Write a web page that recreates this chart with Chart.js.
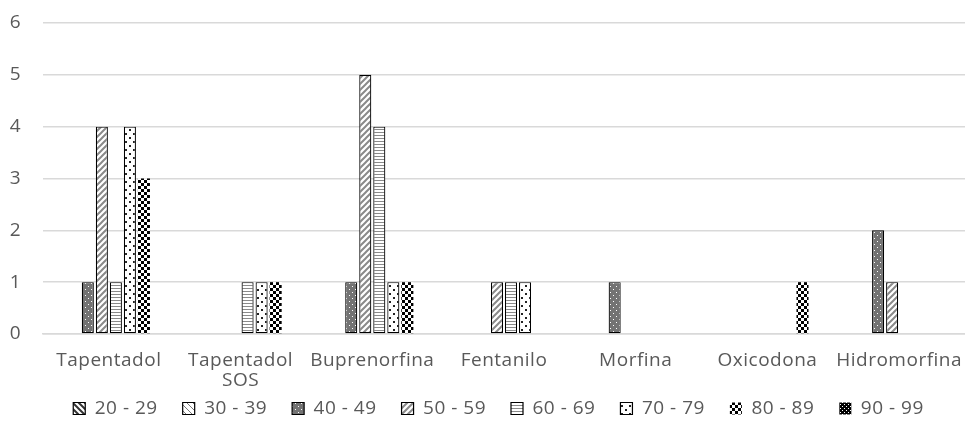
<!DOCTYPE html>
<html>
<head>
<meta charset="utf-8">
<script src="https://cdn.jsdelivr.net/npm/chart.js@4.4.1/dist/chart.umd.min.js"></script>
<style>
  html, body { margin: 0; padding: 0; background: #ffffff; }
  canvas { display: block; }
</style>
</head>
<body>
<canvas id="c" width="965" height="428"></canvas>
<script>
// Categories (x axis) and one array per age band
const categories = ['Tapentadol', ['Tapentadol', 'SOS'], 'Buprenorfina', 'Fentanilo', 'Morfina', 'Oxicodona', 'Hidromorfina'];
const ageBands = ['20 - 29', '30 - 39', '40 - 49', '50 - 59', '60 - 69', '70 - 79', '80 - 89', '90 - 99'];
const band20_29 = [0, 0, 0, 0, 0, 0, 0];
const band30_39 = [0, 0, 0, 0, 0, 0, 0];
const band40_49 = [1, 0, 1, 0, 1, 0, 2];
const band50_59 = [4, 0, 5, 1, 0, 0, 1];
const band60_69 = [1, 1, 4, 1, 0, 0, 0];
const band70_79 = [4, 1, 1, 1, 0, 0, 0];
const band80_89 = [3, 1, 1, 0, 0, 1, 0];
const band90_99 = [0, 0, 0, 0, 0, 0, 0];
const yTicks = [0, 1, 2, 3, 4, 5, 6];

const TEXT = '#595959';
const FONT = "'Open Sans', 'Noto Sans', sans-serif";
const SIZE = 19;

// Small tiled fills for the monochrome bar patterns
function makePattern(w, h, draw) {
  const c = document.createElement('canvas');
  c.width = w; c.height = h;
  const g = c.getContext('2d');
  draw(g, w, h);
  return g.createPattern(c, 'repeat');
}

const fills = [
  // 20 - 29: dark downward diagonals
  makePattern(6, 6, (g) => {
    g.fillStyle = '#fff'; g.fillRect(0, 0, 6, 6);
    g.strokeStyle = '#333'; g.lineWidth = 2;
    g.beginPath(); g.moveTo(-1, -1); g.lineTo(7, 7); g.moveTo(-1, 5); g.lineTo(1, 7); g.moveTo(5, -1); g.lineTo(7, 1); g.stroke();
  }),
  // 30 - 39: thin light diagonals
  makePattern(6, 6, (g) => {
    g.fillStyle = '#fff'; g.fillRect(0, 0, 6, 6);
    g.strokeStyle = '#777'; g.lineWidth = 1;
    g.beginPath(); g.moveTo(-1, -1); g.lineTo(7, 7); g.stroke();
  }),
  // 40 - 49: dark grey with white dots
  makePattern(6, 6, (g) => {
    g.fillStyle = '#737373'; g.fillRect(0, 0, 6, 6);
    g.fillStyle = '#fff';
    g.fillRect(1, 1, 1, 1); g.fillRect(4, 4, 1, 1);
  }),
  // 50 - 59: grey upward diagonals
  makePattern(6, 6, (g) => {
    g.fillStyle = '#fff'; g.fillRect(0, 0, 6, 6);
    g.strokeStyle = '#8a8a8a'; g.lineWidth = 2;
    g.beginPath(); g.moveTo(-1, 7); g.lineTo(7, -1); g.moveTo(-1, 1); g.lineTo(1, -1); g.moveTo(5, 7); g.lineTo(7, 5); g.stroke();
  }),
  // 60 - 69: grey horizontal lines
  makePattern(4, 3, (g) => {
    g.fillStyle = '#fff'; g.fillRect(0, 0, 4, 3);
    g.fillStyle = '#8a8a8a'; g.fillRect(0, 0, 4, 1);
  }),
  // 70 - 79: sparse black dots on white
  makePattern(8, 8, (g) => {
    g.fillStyle = '#fff'; g.fillRect(0, 0, 8, 8);
    g.fillStyle = '#222';
    g.fillRect(1, 1, 2, 2); g.fillRect(5, 5, 2, 2);
  }),
  // 80 - 89: black and white checkerboard
  makePattern(6, 6, (g) => {
    g.fillStyle = '#fff'; g.fillRect(0, 0, 6, 6);
    g.fillStyle = '#000';
    g.fillRect(0, 0, 3, 3); g.fillRect(3, 3, 3, 3);
  }),
  // 90 - 99: dense dark checker
  makePattern(4, 4, (g) => {
    g.fillStyle = '#000'; g.fillRect(0, 0, 4, 4);
    g.fillStyle = '#fff';
    g.fillRect(0, 0, 1, 1); g.fillRect(2, 2, 1, 1);
  })
];

const seriesValues = [band20_29, band30_39, band40_49, band50_59, band60_69, band70_79, band80_89, band90_99];
const borders = [1.2, 1.2, 1.2, 1.2, 1.2, 1.2, 0, 0];

const datasets = ageBands.map((label, i) => ({
  label,
  data: seriesValues[i],
  backgroundColor: fills[i],
  borderColor: '#000',
  borderWidth: borders[i],
  borderSkipped: false,
  barPercentage: 0.86,
  categoryPercentage: 0.852
}));

// Slightly spaced text, applied before layout (measuring) and drawing
const spacing = {
  id: 'spacing',
  beforeLayout(chart) { chart.ctx.letterSpacing = '0.5px'; },
  beforeDraw(chart) { chart.ctx.letterSpacing = '0.5px'; }
};

new Chart(document.getElementById('c'), {
  type: 'bar',
  data: { labels: categories, datasets },
  plugins: [spacing],
  options: {
    responsive: false,
    animation: false,
    devicePixelRatio: 1,
    layout: { padding: { top: 23, right: 0, left: 32, bottom: 0 } },
    plugins: {
      tooltip: { enabled: false },
      legend: {
        position: 'bottom',
        labels: {
          color: TEXT,
          font: { family: FONT, size: SIZE },
          boxWidth: 12,
          boxHeight: 12,
          padding: 25
        }
      }
    },
    scales: {
      x: {
        grid: { display: false, drawTicks: false },
        border: { display: true, color: '#d9d9d9', width: 1.5 },
        ticks: { color: TEXT, font: { family: FONT, size: SIZE, lineHeight: 1.05 }, padding: 17, maxRotation: 0, autoSkip: false },
        afterFit(scale) {
          scale.height = 40;
          scale.paddingLeft = 0;
          scale.paddingRight = 0;
          // let the two-line label run below the axis box
          scale._computeLabelArea = () => undefined;
        }
      },
      y: {
        min: 0,
        max: 6,
        afterBuildTicks(scale) { scale.ticks = yTicks.map(v => ({ value: v })); },
        grid: { color: '#d9d9d9', lineWidth: 1.5, drawTicks: false },
        border: { display: false },
        ticks: { color: TEXT, font: { family: FONT, size: SIZE }, padding: 22 },
        afterFit(scale) {
          scale.width = 11;
          scale.paddingTop = 0;
          scale.paddingBottom = 0;
          // tick labels sit left of the narrow axis box
          scale._computeLabelArea = () => undefined;
        }
      }
    }
  }
});
</script>
</body>
</html>
